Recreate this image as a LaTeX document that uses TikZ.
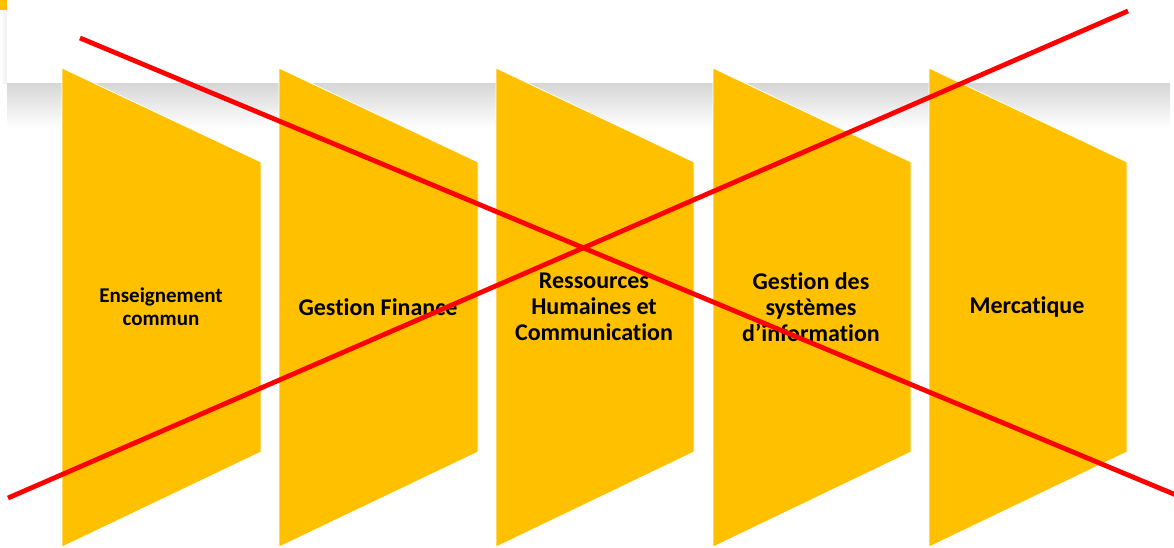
\documentclass[tikz,border=0pt]{standalone}
\usepackage{fontspec}
\setmainfont{Carlito}[Ligatures=NoCommon]
\usepackage{tikz}
\usepackage{xcolor}
\definecolor{gold}{HTML}{FFC000}
\definecolor{shadowgray}{HTML}{D6D6D6}
\tikzset{
    chevron-box/.style = {fill=gold, draw=white, line width=0.8pt, line join=miter},
    chevron-text/.style = {align=center, font=\bfseries\fontsize{24}{26}\selectfont, text=black, inner sep=0pt},
    chevron-text-small/.style = {chevron-text, font=\bfseries\fontsize{21}{23}\selectfont},
    cross-line/.style = {draw=red, line width=4.8pt},
}

\begin{document}
\begin{tikzpicture}[x=1pt, y=-1pt]
\useasboundingbox (0,0) rectangle (1174,547);
% top panel and its shadow
\fill[white] (0,0) rectangle (1174,547);
\shade[top color=shadowgray, bottom color=white] (7,83) rectangle (1170,128);
\shade[left color=white, right color=gray!12] (0,10) rectangle (7,83);
\fill[gold] (0,0) rectangle (7,10);

% the five blocks
\path[chevron-box] (62,68) -- (261,162) -- (261,452) -- (62,547) -- cycle;
\path[chevron-box] (279,68) -- (478,162) -- (478,452) -- (279,547) -- cycle;
\path[chevron-box] (496,68) -- (694,162) -- (694,452) -- (496,547) -- cycle;
\path[chevron-box] (713,68) -- (911,162) -- (911,452) -- (713,547) -- cycle;
\path[chevron-box] (929,68) -- (1127,162) -- (1127,452) -- (929,547) -- cycle;

\node[chevron-text-small] (enseignement) at (161,307) {Enseignement\\commun};
\node[chevron-text] (finance) at (378,307) {Gestion Finance};
\node[chevron-text] (ressources) at (594,307) {Ressources\\Humaines et\\Communication};
\node[chevron-text] (systemes) at (811,307) {Gestion des\\systèmes\\d’information};
\node[chevron-text] (mercatique) at (1027,307) {Mercatique};

% the cross
\coordinate (cross-a) at (80,38);
\coordinate (cross-b) at (1176,495);
\coordinate (cross-c) at (8,498);
\coordinate (cross-d) at (1128,11);
\draw[cross-line] (cross-a) -- (cross-b);
\draw[cross-line] (cross-c) -- (cross-d);
\end{tikzpicture}
\end{document}
